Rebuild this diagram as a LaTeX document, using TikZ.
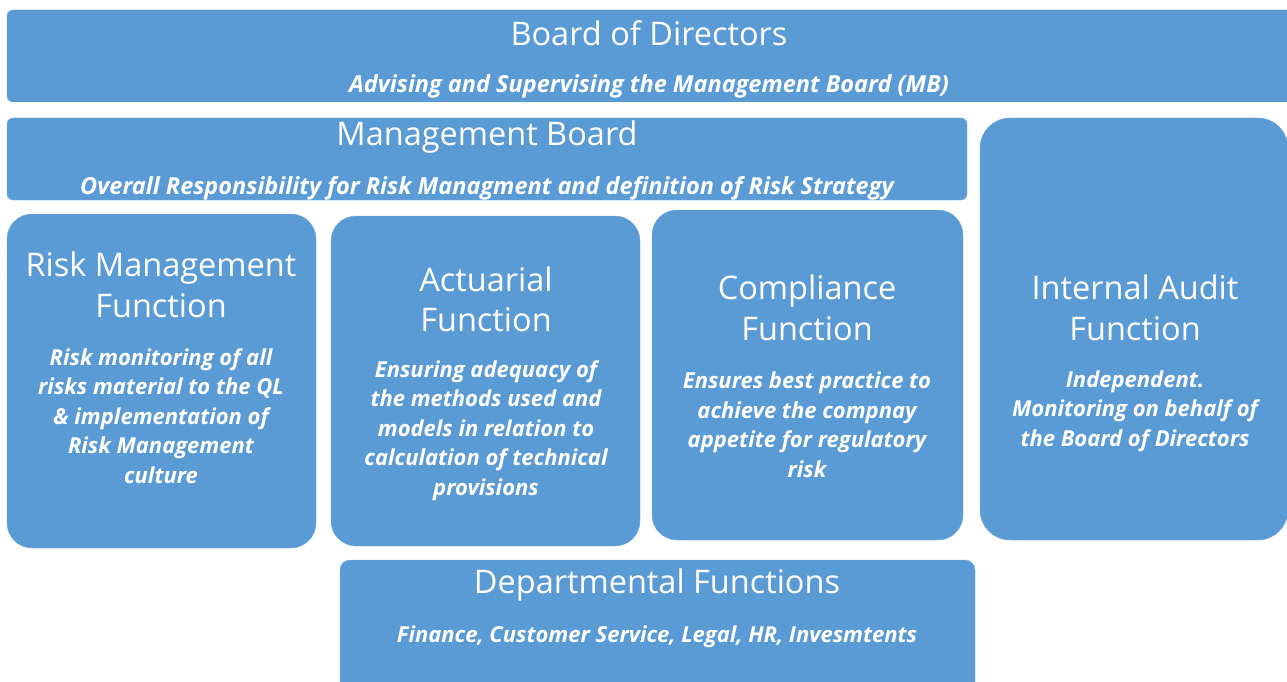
\documentclass[tikz,border=0pt]{standalone}
\usepackage{fontspec}
\setmainfont{Open Sans}
\definecolor{boxblue}{HTML}{5B9BD5}
\tikzset{
  panel/.style={fill=boxblue, draw=boxblue!85!white, inner sep=0, outer sep=0},
  head/.style={text=white, align=center, inner sep=0, font=\fontsize{32.5}{40.5}\selectfont},
  note/.style={text=white, align=center, inner sep=0, font=\fontsize{22}{29.5}\selectfont\bfseries\itshape},
  wide note/.style={note, font=\fontsize{23.5}{29.5}\selectfont\bfseries\itshape},
}

\begin{document}
\begin{tikzpicture}[x=1pt, y=-1pt]
  \useasboundingbox (0,0) rectangle (1287,682);
  \clip (0,0) rectangle (1287,682);

  % the panels
  \node[panel, rounded corners=6, minimum width=1293pt, minimum height=92pt] (bod) at (653.5,56) {};
  \node[panel, rounded corners=6, minimum width=960pt, minimum height=82pt] (mb) at (487,159) {};
  \node[panel, rounded corners=25, minimum width=309pt, minimum height=334pt] (rmf) at (161.5,381) {};
  \node[panel, rounded corners=25, minimum width=309pt, minimum height=330pt] (act) at (485.5,381) {};
  \node[panel, rounded corners=25, minimum width=311pt, minimum height=330pt] (comp) at (807.5,375) {};
  \node[panel, rounded corners=30, minimum width=308pt, minimum height=422pt] (ia) at (1134,329) {};
  \node[panel, rounded corners=10, minimum width=635pt, minimum height=140pt] (dep) at (657.5,630) {};

  % titles and what each one does
  \node[head] (bodT) at (649,33) {Board of Directors};
  \node[wide note] (bodN) at (649,86) {Advising and Supervising the Management Board (MB)};

  \node[head] (mbT) at (487,137) {Management Board};
  \node[wide note] (mbN) at (487,188) {Overall Responsibility for Risk Managment and definition of Risk Strategy};

  \node[head] (rmfT) at (161,285) {Risk Management\\ Function};
  \node[note] (rmfN) at (161,416) {Risk monitoring of all\\ risks material to the QL\\ \& implementation of\\ Risk Management\\ culture};

  \node[head] (actT) at (486,299.5) {Actuarial\\ Function};
  \node[note] (actN) at (486,430.5) {Ensuring adequacy of\\ the methods used and\\ models in relation to\\ calculation of technical\\ provisions};

  \node[head] (compT) at (807,308) {Compliance\\ Function};
  \node[note] (compN) at (807,424.5) {Ensures best practice to\\ achieve the compnay\\ appetite for regulatory\\ risk};

  \node[head] (iaT) at (1135,308) {Internal Audit\\ Function};
  \node[note] (iaN) at (1135,411) {Independent.\\ Monitoring on behalf of\\ the Board of Directors};

  \node[head] (depT) at (657,585) {Departmental Functions};
  \node[note] (depN) at (657,637) {Finance, Customer Service, Legal, HR, Invesmtents};
\end{tikzpicture}
\end{document}
